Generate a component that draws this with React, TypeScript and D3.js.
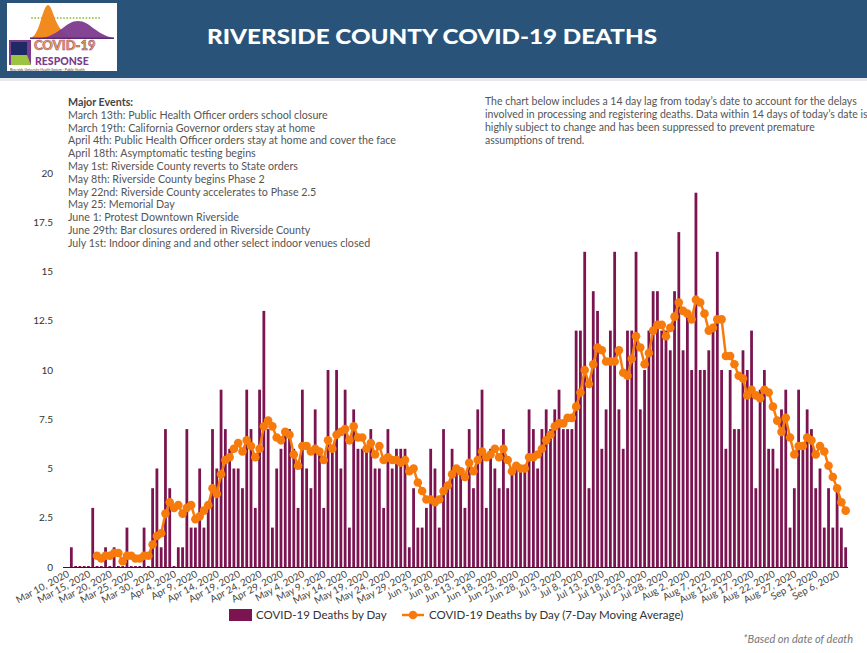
import React, { useEffect, useRef } from "react"
import * as d3 from "d3"

// daily deaths, Mar 10 2020 .. Sep 7 2020
const deaths = [
	1, 0, 0, 0, 0, 3, 0, 0, 1, 0, 1, 0, 0, 2, 0, 0, 0, 2, 0, 4,
	5, 1, 7, 4, 0, 1, 1, 7, 2, 2, 5, 2, 3, 7, 5, 9, 7, 6, 5, 5,
	4, 9, 7, 3, 9, 13, 7, 2, 5, 6, 7, 7, 6, 3, 9, 5, 4, 8, 6, 3,
	10, 6, 10, 5, 9, 2, 8, 6, 6, 6, 7, 5, 5, 3, 7, 5, 6, 6, 6, 1,
	4, 2, 2, 3, 6, 5, 2, 7, 4, 6, 5, 5, 3, 7, 4, 8, 9, 3, 6, 5,
	4, 7, 4, 5, 5, 5, 5, 8, 7, 5, 7, 8, 7, 8, 9, 7, 7, 7, 12, 12,
	16, 4, 14, 13, 6, 8, 12, 16, 8, 6, 12, 12, 16, 8, 10, 12, 14, 14, 12, 12,
	11, 14, 17, 11, 13, 10, 19, 10, 10, 11, 12, 16, 10, 6, 10, 7, 7, 11, 10, 12,
	4, 9, 10, 6, 6, 5, 8, 9, 2, 4, 9, 6, 8, 7, 4, 5, 2, 4, 2, 4,
	2, 1,
]

// 7-day moving average as plotted (starts Mar 16)
const movingAvg = [
	null, null, null, null, null, null,
	0.57, 0.43, 0.57, 0.57, 0.71, 0.71, 0.29, 0.57, 0.57, 0.43, 0.43, 0.57, 0.57, 1.14,
	1.57, 1.71, 2.71, 3.29, 3.0, 3.14, 2.71, 3.0, 3.14, 2.43, 2.57, 2.86, 3.14, 4.0,
	3.71, 4.71, 5.43, 5.57, 6.0, 6.29, 5.86, 6.43, 6.14, 5.57, 6.0, 7.14, 7.43, 7.14,
	6.57, 6.43, 6.86, 6.71, 5.71, 5.14, 6.14, 6.14, 5.86, 6.0, 5.86, 5.43, 6.43, 6.0,
	6.71, 6.86, 7.0, 6.43, 7.14, 6.57, 6.57, 6.0, 6.29, 5.71, 6.14, 5.43, 5.57, 5.43,
	5.43, 5.29, 5.43, 4.86, 5.0, 4.29, 3.86, 3.43, 3.43, 3.29, 3.43, 3.86, 4.14, 4.71,
	5.0, 4.86, 4.57, 5.29, 4.86, 5.43, 5.86, 5.57, 5.71, 6.0, 5.57, 6.0, 5.43, 4.86,
	5.14, 5.0, 5.0, 5.57, 5.57, 5.71, 6.0, 6.43, 6.71, 7.14, 7.29, 7.29, 7.57, 7.57,
	8.14, 8.86, 10.0, 9.29, 10.29, 11.14, 11.0, 10.43, 10.43, 10.43, 11.0, 9.86, 9.71, 10.57,
	11.71, 11.14, 10.29, 10.86, 12.0, 12.29, 12.29, 11.71, 12.14, 12.71, 13.43, 13.0, 12.86, 12.57,
	13.57, 13.43, 12.86, 12.0, 12.14, 12.57, 12.57, 10.71, 10.71, 10.29, 9.71, 9.57, 8.71, 9.0,
	8.71, 8.57, 9.0, 8.86, 8.14, 7.43, 6.86, 7.57, 6.57, 5.71, 6.14, 6.14, 6.57, 6.43,
	5.71, 6.14, 5.86, 5.14, 4.57, 4.0, 3.29, 2.86,
]

const startDate = new Date(2020, 2, 10)
const yTicks = [0, 2.5, 5, 7.5, 10, 12.5, 15, 17.5, 20]

const eventLines = [
	"March 13th: Public Health Officer orders school closure",
	"March 19th: California Governor orders stay at home",
	"April 4th: Public Health Officer orders stay at home and cover the face",
	"April 18th: Asymptomatic testing begins",
	"May 1st: Riverside County reverts to State orders",
	"May 8th: Riverside County begins Phase 2",
	"May 22nd: Riverside County accelerates to Phase 2.5",
	"May 25: Memorial Day",
	"June 1: Protest Downtown Riverside",
	"June 29th: Bar closures ordered in Riverside County",
	"July 1st: Indoor dining and and other select indoor venues closed",
]

const noteLines = [
	"The chart below includes a 14 day lag from today\u2019s date to account for the delays",
	"involved in processing and registering deaths. Data within 14 days of today\u2019s date is",
	"highly subject to change and has been suppressed to prevent premature",
	"assumptions of trend.",
]

const BAR = "#7b1451"
const ORANGE = "#f77b0c"
const FONT = "Lato, 'Open Sans', sans-serif"

const App: React.FC = () => {
	const ref = useRef<SVGSVGElement>(null)

	useEffect(() => {
		const svg = d3.select(ref.current)
		svg.selectAll("*").remove()

		const days = d3.timeDay.range(startDate, d3.timeDay.offset(startDate, deaths.length))

		const x = d3
			.scaleBand<Date>()
			.domain(days)
			.range([69.2, 847.8])
			.paddingInner(0.35)
			.paddingOuter(0.175)
		const y = d3.scaleLinear().domain([0, 20]).range([567, 173])
		const cx = (d: Date) => (x(d) as number) + x.bandwidth() / 2

		// header
		svg.append("rect").attr("x", 0).attr("y", 0).attr("width", 867).attr("height", 78).attr("fill", "#2a5379")
		svg.append("rect").attr("x", 0).attr("y", 78).attr("width", 867).attr("height", 3).attr("fill", "#e6e9ee")
		svg
			.append("text")
			.attr("x", 432)
			.attr("y", 44)
			.attr("text-anchor", "middle")
			.attr("fill", "#ffffff")
			.attr("font-family", FONT)
			.attr("font-weight", 900)
			.attr("font-size", 21)
			.attr("textLength", 450)
			.attr("lengthAdjust", "spacingAndGlyphs")
			.text("RIVERSIDE COUNTY COVID-19 DEATHS")

		// logo
		const logo = svg.append("g")
		logo.append("rect").attr("x", 7).attr("y", 3).attr("width", 110).attr("height", 68).attr("fill", "#ffffff")
		d3.range(32, 101, 3.2).forEach((dx) => {
			logo.append("circle").attr("cx", dx).attr("cy", 18).attr("r", 0.9).attr("fill", "#9cc43e")
		})
		logo
			.append("path")
			.attr("d", "M30,38 C40,37 42,6 48,5 C54,6 53,30 72,38 Z")
			.attr("fill", "#f28b1f")
		logo
			.append("path")
			.attr("d", "M42,38 C60,35 66,21 78,21 C90,21 96,35 114,38 Z")
			.attr("fill", "#7c3b8d")
			.attr("opacity", 0.95)
		logo.append("rect").attr("x", 30).attr("y", 37.5).attr("width", 84).attr("height", 1.5).attr("fill", "#5b2a73")
		logo.append("rect").attr("x", 9).attr("y", 40).attr("width", 22).attr("height", 25).attr("fill", "#7c3b8d")
		logo.append("rect").attr("x", 11).attr("y", 42).attr("width", 16).attr("height", 13).attr("fill", "#1d2a63")
		logo.append("path").attr("d", "M11,55 L27,55 L31,65 L11,65 Z").attr("fill", "#9cc43e")
		logo
			.append("text")
			.attr("x", 34)
			.attr("y", 50)
			.attr("font-family", FONT)
			.attr("font-weight", 900)
			.attr("font-size", 13)
			.attr("fill", "#f4a53b")
			.attr("stroke", "#7c3b8d")
			.attr("stroke-width", 0.5)
			.text("COVID-19")
		logo
			.append("text")
			.attr("x", 35)
			.attr("y", 64.5)
			.attr("font-family", FONT)
			.attr("font-weight", 900)
			.attr("font-size", 10.5)
			.attr("fill", "#7c3b8d")
			.text("RESPONSE")
		logo
			.append("text")
			.attr("x", 10)
			.attr("y", 70.5)
			.attr("font-family", FONT)
			.attr("font-size", 3.4)
			.attr("fill", "#333")
			.text("Riverside University Health System - Public Health")

		// events block
		const ev = svg.append("g").attr("font-family", FONT).attr("font-size", 10.7)
		ev.append("text").attr("x", 68).attr("y", 106).attr("fill", "#444").attr("font-weight", 700).text("Major Events:")
		eventLines.forEach((t, i) => {
			ev.append("text").attr("x", 68).attr("y", 118.8 + i * 12.8).attr("fill", "#555").text(t)
		})

		const note = svg.append("g").attr("font-family", FONT).attr("font-size", 10.5).attr("fill", "#555")
		noteLines.forEach((t, i) => {
			note.append("text").attr("x", 485).attr("y", 105 + i * 13).text(t)
		})

		// y axis labels
		svg
			.append("g")
			.selectAll("text")
			.data(yTicks)
			.join("text")
			.attr("x", 53)
			.attr("y", (d) => y(d))
			.attr("dy", "0.35em")
			.attr("text-anchor", "end")
			.attr("font-family", FONT)
			.attr("font-size", 10)
			.attr("fill", "#333")
			.text((d) => String(d))

		// bars
		svg
			.append("g")
			.selectAll("rect")
			.data(days)
			.join("rect")
			.attr("x", (d) => x(d) as number)
			.attr("width", x.bandwidth())
			.attr("y", (d, i) => Math.min(y(deaths[i]), y(0) - 1))
			.attr("height", (d, i) => Math.max(y(0) - y(deaths[i]), 1))
			.attr("fill", BAR)

		// baseline
		svg.append("line").attr("x1", 63).attr("x2", 848).attr("y1", 567.5).attr("y2", 567.5).attr("stroke", "#222").attr("stroke-width", 1.2)

		// moving average
		const pts = days.map((d, i) => ({ d, v: movingAvg[i] })).filter((p) => p.v != null) as { d: Date; v: number }[]
		const line = d3
			.line<{ d: Date; v: number }>()
			.x((p) => cx(p.d))
			.y((p) => y(p.v))
		svg.append("path").attr("d", line(pts)).attr("fill", "none").attr("stroke", ORANGE).attr("stroke-width", 2.5)
		svg
			.append("g")
			.selectAll("circle")
			.data(pts)
			.join("circle")
			.attr("cx", (p) => cx(p.d))
			.attr("cy", (p) => y(p.v))
			.attr("r", 4.3)
			.attr("fill", ORANGE)

		// x tick labels
		const fmt = d3.timeFormat("%b %-d, %Y")
		svg
			.append("g")
			.selectAll("text")
			.data(days.filter((d, i) => i % 5 === 0))
			.join("text")
			.attr("transform", (d) => `translate(${cx(d) - 3},${573}) rotate(-28)`)
			.attr("text-anchor", "end")
			.attr("dy", "0.35em")
			.attr("font-family", FONT)
			.attr("font-size", 9.8)
			.attr("fill", "#444")
			.text((d) => fmt(d))

		// legend
		const lg = svg.append("g").attr("font-family", FONT).attr("font-size", 11.5).attr("fill", "#333")
		lg.append("rect").attr("x", 229).attr("y", 609).attr("width", 23).attr("height", 12).attr("fill", BAR)
		lg.append("text").attr("x", 256).attr("y", 619).text("COVID-19 Deaths by Day")
		lg.append("line").attr("x1", 402).attr("x2", 424).attr("y1", 615).attr("y2", 615).attr("stroke", ORANGE).attr("stroke-width", 2.5)
		lg.append("circle").attr("cx", 413).attr("cy", 615).attr("r", 4.3).attr("fill", ORANGE)
		lg.append("text").attr("x", 429).attr("y", 619).text("COVID-19 Deaths by Day (7-Day Moving Average)")

		svg
			.append("text")
			.attr("x", 853)
			.attr("y", 643)
			.attr("text-anchor", "end")
			.attr("font-family", FONT)
			.attr("font-style", "italic")
			.attr("font-size", 11)
			.attr("fill", "#777")
			.text("*Based on date of death")
	}, [])

	return (
		<div style={{ position: "absolute", left: 0, top: 0, width: 867, height: 653, overflow: "hidden" }}>
			<svg ref={ref} width={867} height={653} style={{ display: "block", background: "#fff" }} />
		</div>
	)
}

export default App
